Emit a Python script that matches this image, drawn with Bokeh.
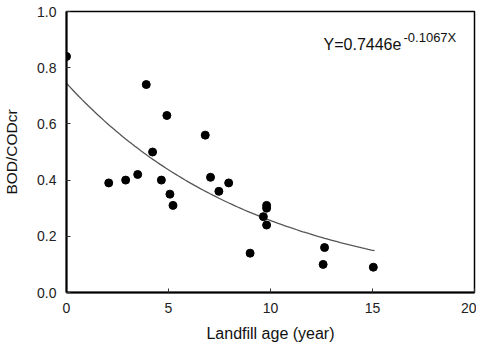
import numpy as np
from bokeh.plotting import figure
from bokeh.models import Label, FixedTicker
from bokeh.embed import file_html
from bokeh.resources import INLINE

# Data
age = [0, 2.07, 2.9, 3.49, 3.91, 4.22, 4.65, 4.92, 5.07, 5.22, 6.8, 7.06,
       7.47, 7.95, 9.0, 9.65, 9.81, 9.81, 9.81, 12.58, 12.65, 15.04]
ratio = [0.84, 0.39, 0.40, 0.42, 0.74, 0.50, 0.40, 0.63, 0.35, 0.31, 0.56, 0.41,
         0.36, 0.39, 0.14, 0.27, 0.31, 0.30, 0.24, 0.10, 0.16, 0.09]
x_ticks = [0, 5, 10, 15, 20]
y_ticks = [0.0, 0.2, 0.4, 0.6, 0.8, 1.0]
y_tick_labels = {0.0: "0.0", 0.2: "0.2", 0.4: "0.4", 0.6: "0.6", 0.8: "0.8", 1.0: "1.0"}

# Fitted exponential Y = a * e^(b X)
fit_a = 0.7446
fit_b = -0.1067
fit_x_end = 15.1
fit_x = np.linspace(0, fit_x_end, 100)
fit_y = fit_a * np.exp(fit_b * fit_x)

FONT = "Liberation Sans"

p = figure(frame_width=408, frame_height=281, x_range=(0, 20), y_range=(0, 1.0),
           output_backend="svg", toolbar_location=None,
           min_border_left=64, min_border_right=2, min_border_top=11, min_border_bottom=44)
p.grid.visible = False
p.background_fill_color = "white"
p.border_fill_color = "white"
p.outline_line_color = "black"
p.outline_line_width = 1.5

p.line(fit_x, fit_y, line_color="#555555", line_width=1.3)
p.scatter(age, ratio, size=8, color="black")

for ax in (p.xaxis[0], p.yaxis[0]):
    ax.axis_line_width = 2
    ax.axis_line_color = "black"
    ax.major_tick_in = 4
    ax.major_tick_out = 0
    ax.major_tick_line_color = "#333333"
    ax.minor_tick_line_color = None
    ax.major_label_text_font = FONT
    ax.major_label_text_font_size = "14px"
    ax.major_label_text_color = "#222222"
    ax.axis_label_text_font = FONT
    ax.axis_label_text_font_style = "normal"
    ax.axis_label_text_color = "#111111"
    ax.major_label_standoff = 10

p.xaxis.ticker = FixedTicker(ticks=x_ticks)
p.yaxis.ticker = FixedTicker(ticks=y_ticks)
p.yaxis.major_label_overrides = y_tick_labels
p.xaxis.axis_label = "Landfill age (year)"
p.yaxis.axis_label = "BOD/CODcr"
p.xaxis.axis_label_text_font_size = "16px"
p.yaxis.axis_label_text_font_size = "15.5px"
p.xaxis.axis_label_standoff = 9
p.yaxis.axis_label_standoff = 14

p.add_layout(Label(x=12.6, y=0.884, text="Y=0.7446e", text_font=FONT,
                   text_font_size="16px", text_baseline="alphabetic", text_color="#111111"))
p.add_layout(Label(x=16.52, y=0.908, text="-0.1067X", text_font=FONT,
                   text_font_size="13px", text_baseline="alphabetic", text_color="#111111"))

open("out.html", "w").write(file_html(p, INLINE))
